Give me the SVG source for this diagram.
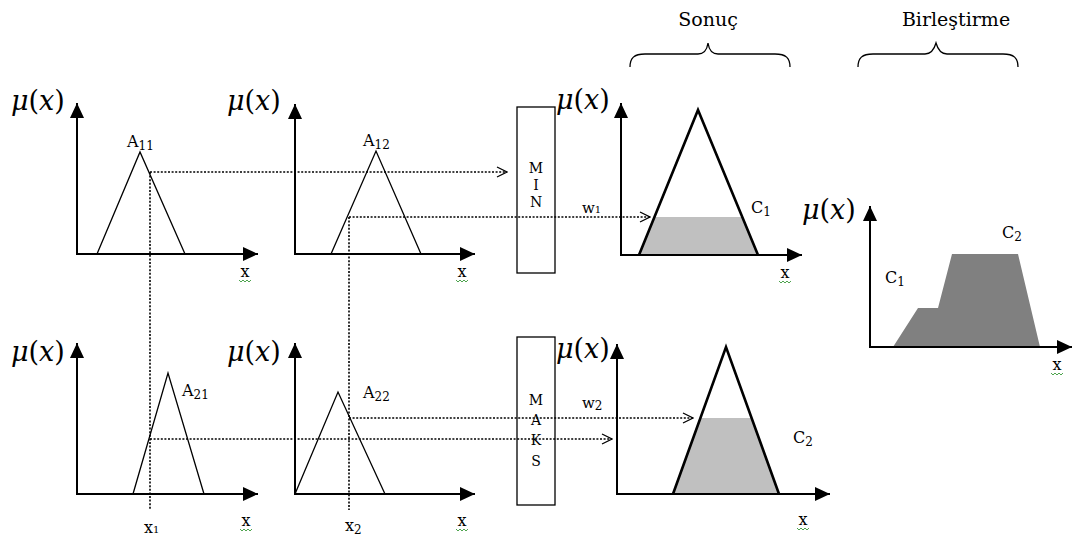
<svg xmlns="http://www.w3.org/2000/svg" width="1073" height="541" viewBox="0 0 1073 541" font-family="DejaVu Serif, serif">
<style>
text{font-family:"DejaVu Serif",serif;fill:#000}
.mu{font-size:27px}
.it{font-style:italic}
.lbl{font-size:16px}
.sub{font-size:12px}
.ax{stroke:#000;stroke-width:2;fill:none;marker-end:url(#ah)}
.tri{stroke:#000;stroke-width:1.3;fill:none}
.big{stroke:#000;stroke-width:2.6;fill:none;stroke-linejoin:miter}
.dot{stroke:#000;stroke-width:1.6;stroke-dasharray:2 1.6;fill:none}
.arr{marker-end:url(#ch)}
.box{stroke:#000;stroke-width:1.3;fill:#fff}
.box-t{font-size:14px;text-anchor:middle}
.wv{stroke:#3a9a3a;stroke-width:0.9;fill:none}
.brace{stroke:#000;stroke-width:1.3;fill:none}
</style>
<defs>
<marker id="ah" markerUnits="userSpaceOnUse" markerWidth="16" markerHeight="14" refX="15" refY="7" orient="auto"><path d="M0,0 L15,7 L0,14 z" fill="#000"/></marker>
<marker id="ch" markerUnits="userSpaceOnUse" markerWidth="12" markerHeight="12" refX="11" refY="6" orient="auto"><path d="M1,1 L11,6 L1,11" fill="none" stroke="#000" stroke-width="1.3"/></marker>
<path id="wave" d="M-6,0 l2,2 l2,-2 l2,2 l2,-2 l2,2 l2,-2" class="wv"/>
</defs>
<rect width="1073" height="541" fill="#fff"/>

<g id="headers">
<text x="708" y="26" font-size="19" text-anchor="middle">Sonuç</text>
<path class="brace" d="M630,67 C630,58 634,54 645,54 L698,54 C704,54 707,50 708,43 C709,50 712,54 718,54 L775,54 C786,54 790,58 790,67"/>
<text x="956" y="26" font-size="19" text-anchor="middle">Birleştirme</text>
<path class="brace" d="M858,67 C858,58 862,54 873,54 L925,54 C931,54 934,50 936,43 C938,50 941,54 947,54 L1003,54 C1014,54 1018,58 1018,67"/>
</g>

<g id="panel-a11">
<text class="mu" x="11" y="110"><tspan class="it">μ</tspan>(<tspan class="it">x</tspan>)</text>
<line class="ax" x1="77" y1="254" x2="77" y2="103"/>
<line class="ax" x1="76" y1="254" x2="258" y2="254"/>
<polyline class="tri" points="97,254 140,152 185,254"/>
<text class="lbl" x="127" y="147">A<tspan class="sub" dy="3">11</tspan></text>
<text class="lbl" x="245" y="277" text-anchor="middle">x</text>
<use href="#wave" x="245" y="280"/>
</g>

<g id="panel-a12">
<text class="mu" x="227" y="110"><tspan class="it">μ</tspan>(<tspan class="it">x</tspan>)</text>
<line class="ax" x1="295" y1="254" x2="295" y2="104"/>
<line class="ax" x1="294" y1="254" x2="475" y2="254"/>
<polyline class="tri" points="331,254 376,151 421,254"/>
<text class="lbl" x="363" y="146">A<tspan class="sub" dy="3">12</tspan></text>
<text class="lbl" x="462" y="277" text-anchor="middle">x</text>
<use href="#wave" x="462" y="280"/>
</g>

<g id="min-box">
<rect class="box" x="517" y="107" width="38" height="166"/>
<text class="box-t" x="536" y="173">M</text>
<text class="box-t" x="536" y="190">I</text>
<text class="box-t" x="536" y="207">N</text>
</g>

<g id="panel-c1">
<text class="mu" x="556" y="109"><tspan class="it">μ</tspan>(<tspan class="it">x</tspan>)</text>
<polygon points="639,255 654.5,217 742.3,217 758,255" fill="#c0c0c0"/>
<line class="ax" x1="621" y1="255" x2="621" y2="103"/>
<line class="ax" x1="620" y1="255" x2="802" y2="255"/>
<polyline class="big" points="639,255 698,110 758,255"/>
<text class="lbl" x="751" y="213">C<tspan class="sub" dy="3">1</tspan></text>
<text class="lbl" x="785" y="278" text-anchor="middle">x</text>
<use href="#wave" x="785" y="281"/>
</g>

<g id="panel-a21">
<text class="mu" x="11" y="361"><tspan class="it">μ</tspan>(<tspan class="it">x</tspan>)</text>
<line class="ax" x1="77" y1="494" x2="77" y2="343"/>
<line class="ax" x1="76" y1="494" x2="258" y2="494"/>
<polyline class="tri" points="133,494 168,373 204,494"/>
<text class="lbl" x="182" y="396">A<tspan class="sub" dy="3">21</tspan></text>
<text class="lbl" x="246" y="526" text-anchor="middle">x</text>
<use href="#wave" x="246" y="529"/>
<text class="lbl" x="144" y="533">x<tspan font-size="10">1</tspan></text>
</g>

<g id="panel-a22">
<text class="mu" x="227" y="361"><tspan class="it">μ</tspan>(<tspan class="it">x</tspan>)</text>
<line class="ax" x1="295" y1="494" x2="295" y2="343"/>
<line class="ax" x1="294" y1="494" x2="475" y2="494"/>
<polyline class="tri" points="295,494 338,392 385,494"/>
<text class="lbl" x="363" y="398">A<tspan class="sub" dy="3">22</tspan></text>
<text class="lbl" x="462" y="526" text-anchor="middle">x</text>
<use href="#wave" x="462" y="529"/>
<text class="lbl" x="345" y="531">x<tspan class="sub" dy="3">2</tspan></text>
</g>

<g id="maks-box">
<rect class="box" x="517" y="337" width="38" height="168"/>
<text class="box-t" x="536" y="405">M</text>
<text class="box-t" x="536" y="425">A</text>
<text class="box-t" x="536" y="445">K</text>
<text class="box-t" x="536" y="466">S</text>
</g>

<g id="panel-c2">
<text class="mu" x="556" y="358"><tspan class="it">μ</tspan>(<tspan class="it">x</tspan>)</text>
<polygon points="673,494 700.4,418 751.6,418 779,494" fill="#c0c0c0"/>
<line class="ax" x1="617" y1="494" x2="617" y2="344"/>
<line class="ax" x1="616" y1="494" x2="830" y2="494"/>
<polyline class="big" points="673,494 726,347 779,494"/>
<text class="lbl" x="793" y="443">C<tspan class="sub" dy="3">2</tspan></text>
<text class="lbl" x="803" y="525" text-anchor="middle">x</text>
<use href="#wave" x="803" y="528"/>
</g>

<g id="panel-birlestirme">
<text class="mu" x="802" y="219"><tspan class="it">μ</tspan>(<tspan class="it">x</tspan>)</text>
<polygon points="893,347 918,308 938,308 952,254 1018,254 1040,347" fill="#808080"/>
<line class="ax" x1="870" y1="347" x2="870" y2="206"/>
<line class="ax" x1="869" y1="347" x2="1072" y2="347"/>
<text class="lbl" x="885" y="283">C<tspan class="sub" dy="3">1</tspan></text>
<text class="lbl" x="1002" y="238">C<tspan class="sub" dy="3">2</tspan></text>
<text class="lbl" x="1057" y="370" text-anchor="middle">x</text>
<use href="#wave" x="1057" y="373"/>
</g>

<g id="connectors">
<line class="dot arr" x1="150" y1="172" x2="507" y2="172"/>
<line class="dot" x1="150" y1="172" x2="150" y2="510"/>
<line class="dot arr" x1="349" y1="217" x2="650" y2="217"/>
<line class="dot" x1="349" y1="217" x2="349" y2="510"/>
<line class="dot arr" x1="150" y1="439" x2="612" y2="439"/>
<line class="dot arr" x1="349" y1="418" x2="693" y2="418"/>
</g>

<g id="w-labels">
<text x="582" y="213" font-size="15">w<tspan font-size="10">1</tspan></text>
<text x="582" y="408" font-size="15">w<tspan class="sub" dy="2">2</tspan></text>
</g>
</svg>
